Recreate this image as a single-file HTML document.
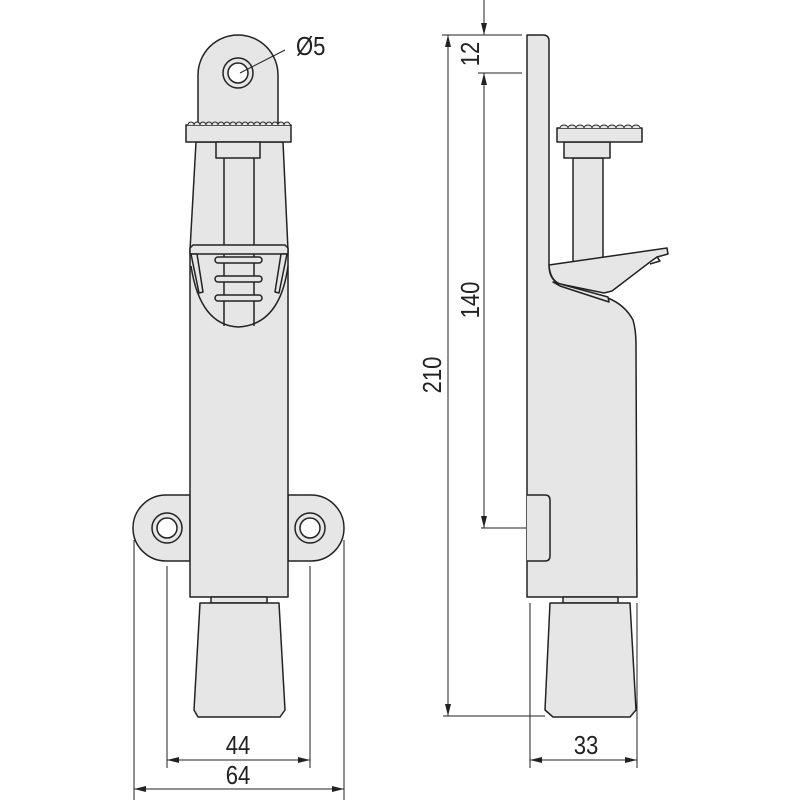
<!DOCTYPE html>
<html><head><meta charset="utf-8"><style>
html,body{margin:0;padding:0;background:#fff;}
svg{display:block;}
text{font-family:"Liberation Sans",sans-serif;fill:#222;}
</style></head><body>
<svg width="800" height="800" viewBox="0 0 800 800" xmlns="http://www.w3.org/2000/svg">
<defs>
<marker id="a" markerWidth="12" markerHeight="8" refX="12" refY="4" orient="auto-start-reverse" markerUnits="userSpaceOnUse">
<path d="M0,1 L12,4 L0,7 Z" fill="#222"/>
</marker>
</defs>
<g fill="#e6e6e6" stroke="#222" stroke-width="1.5" stroke-linejoin="round">
<path d="M190,495 L166,495 A33,33 0 0 0 166,561 L190,561 Z"/>
<path d="M288,495 L311,495 A33,33 0 0 1 311,561 L288,561 Z"/>
<circle cx="167" cy="528" r="15"/><circle cx="167" cy="528" r="10" fill="#fff"/>
<circle cx="310" cy="528" r="15"/><circle cx="310" cy="528" r="10" fill="#fff"/>
<rect x="190" y="250" width="98" height="347"/>
<path d="M196,142 L283,142 L288,250 L190,250 Z"/>
<path d="M198,125 L198,75 A40,40 0 0 1 278,75 L278,125 Z"/>
<circle cx="238" cy="73" r="15"/><circle cx="238" cy="73" r="10" fill="#fff"/>
<rect x="186" y="125" width="105" height="17"/>
<path d="M216,142 L260,142 L260,158 L216,158 Z"/>
<line x1="224" y1="158" x2="224" y2="248"/>
<line x1="254" y1="158" x2="254" y2="248"/>
<path d="M191,266 Q200,325 238,327 Q280,325 288,266" fill="none"/>
<line x1="224" y1="253" x2="224" y2="326"/>
<line x1="254" y1="253" x2="254" y2="326"/>
<path d="M190,248 L193,245 L285,245 L288,248 L288,254 L190,254 Z"/>
<rect x="215" y="257" width="47" height="6" rx="3"/>
<rect x="215" y="276" width="47" height="6" rx="3"/>
<rect x="215" y="295" width="47" height="6" rx="3"/>
<path d="M191,254 L197,254 L203,292 L199,293 Z"/>
<path d="M287,254 L281,254 L275,292 L279,293 Z"/>
<rect x="211" y="597" width="56" height="6"/>
<path d="M200,603 L279,603 L285,710 L280,717 L198,717 L194,710 Z"/>

<path d="M527,35 L543,35 Q549,35 549,41 L549,265 Q549,280 560,284 L608,298 Q625,305 633,320 Q636,330 636,345 L637,597 L527,597 Z"/>
<path d="M527,495 L545,495 Q550,495 550,500 L550,556 Q550,561 545,561 L527,561"/>
<rect x="573" y="158" width="30" height="106"/>
<path d="M564,142 L610,142 L610,158 L564,158 Z"/>
<rect x="557" y="128" width="85" height="14"/>
<path d="M549,265 L667,248 L668,254 L657,257 L650,262 L612,291 L604,293 L560,284 Q550,280 549,265 Z"/>
<path d="M657,257 L660,261 L650,264" fill="none"/>
<path d="M553,282 L608,297 L609,302 L560,286 Z"/>
<rect x="563" y="597" width="55" height="6"/>
<path d="M550,603 L630,603 L636,710 L630,717 L553,717 L545,710 Z"/>
</g>
<g fill="#e6e6e6" stroke="#222" stroke-width="1">
<path d="M188,125 a3,3 0 0 1 6,0 a3,3 0 0 1 6,0 a3,3 0 0 1 6,0 a3,3 0 0 1 6,0 a3,3 0 0 1 6,0 a3,3 0 0 1 6,0 a3,3 0 0 1 6,0 a3,3 0 0 1 6,0 a3,3 0 0 1 6,0 a3,3 0 0 1 6,0 a3,3 0 0 1 6,0 a3,3 0 0 1 6,0 a3,3 0 0 1 6,0 a3,3 0 0 1 6,0 a3,3 0 0 1 6,0 a3,3 0 0 1 6,0 a3,3 0 0 1 6,0"/>
<path d="M560,128 a4,3 0 0 1 8,0 a4,3 0 0 1 8,0 a4,3 0 0 1 8,0 a4,3 0 0 1 8,0 a4,3 0 0 1 8,0 a4,3 0 0 1 8,0 a4,3 0 0 1 8,0 a4,3 0 0 1 8,0 a4,3 0 0 1 8,0 a4,3 0 0 1 8,0"/>
</g>
<g stroke="#222" stroke-width="1" fill="none">
<line x1="285" y1="50" x2="240" y2="73"/>
<line x1="167" y1="566" x2="167" y2="768"/>
<line x1="310" y1="566" x2="310" y2="768"/>
<line x1="134" y1="540" x2="134" y2="800"/>
<line x1="344" y1="540" x2="344" y2="800"/>
<line x1="167" y1="760" x2="310" y2="760" marker-start="url(#a)" marker-end="url(#a)"/>
<line x1="134" y1="789" x2="344" y2="789" marker-start="url(#a)" marker-end="url(#a)"/>
<line x1="530" y1="603" x2="530" y2="768"/>
<line x1="637" y1="603" x2="637" y2="768"/>
<line x1="530" y1="760" x2="637" y2="760" marker-start="url(#a)" marker-end="url(#a)"/>
<line x1="442" y1="35" x2="522" y2="35"/>
<line x1="478" y1="73" x2="522" y2="73"/>
<line x1="481" y1="528" x2="526" y2="528"/>
<line x1="443" y1="716" x2="545" y2="716"/>
<line x1="448" y1="35" x2="448" y2="716" marker-start="url(#a)" marker-end="url(#a)"/>
<line x1="484" y1="0" x2="484" y2="35" marker-end="url(#a)"/>
<line x1="484" y1="73" x2="484" y2="528" marker-start="url(#a)" marker-end="url(#a)"/>
</g>
<g font-size="26">
<text transform="translate(296,55) scale(0.85,1)">Ø5</text>
<text transform="translate(238,754) scale(0.85,1)" text-anchor="middle">44</text>
<text transform="translate(238,784) scale(0.85,1)" text-anchor="middle">64</text>
<text transform="translate(586,754) scale(0.85,1)" text-anchor="middle">33</text>
<text transform="translate(479,54) rotate(-90) scale(0.85,1)" text-anchor="middle">12</text>
<text transform="translate(479,300) rotate(-90) scale(0.85,1)" text-anchor="middle">140</text>
<text transform="translate(441,375) rotate(-90) scale(0.85,1)" text-anchor="middle">210</text>
</g>
</svg>
</body></html>
